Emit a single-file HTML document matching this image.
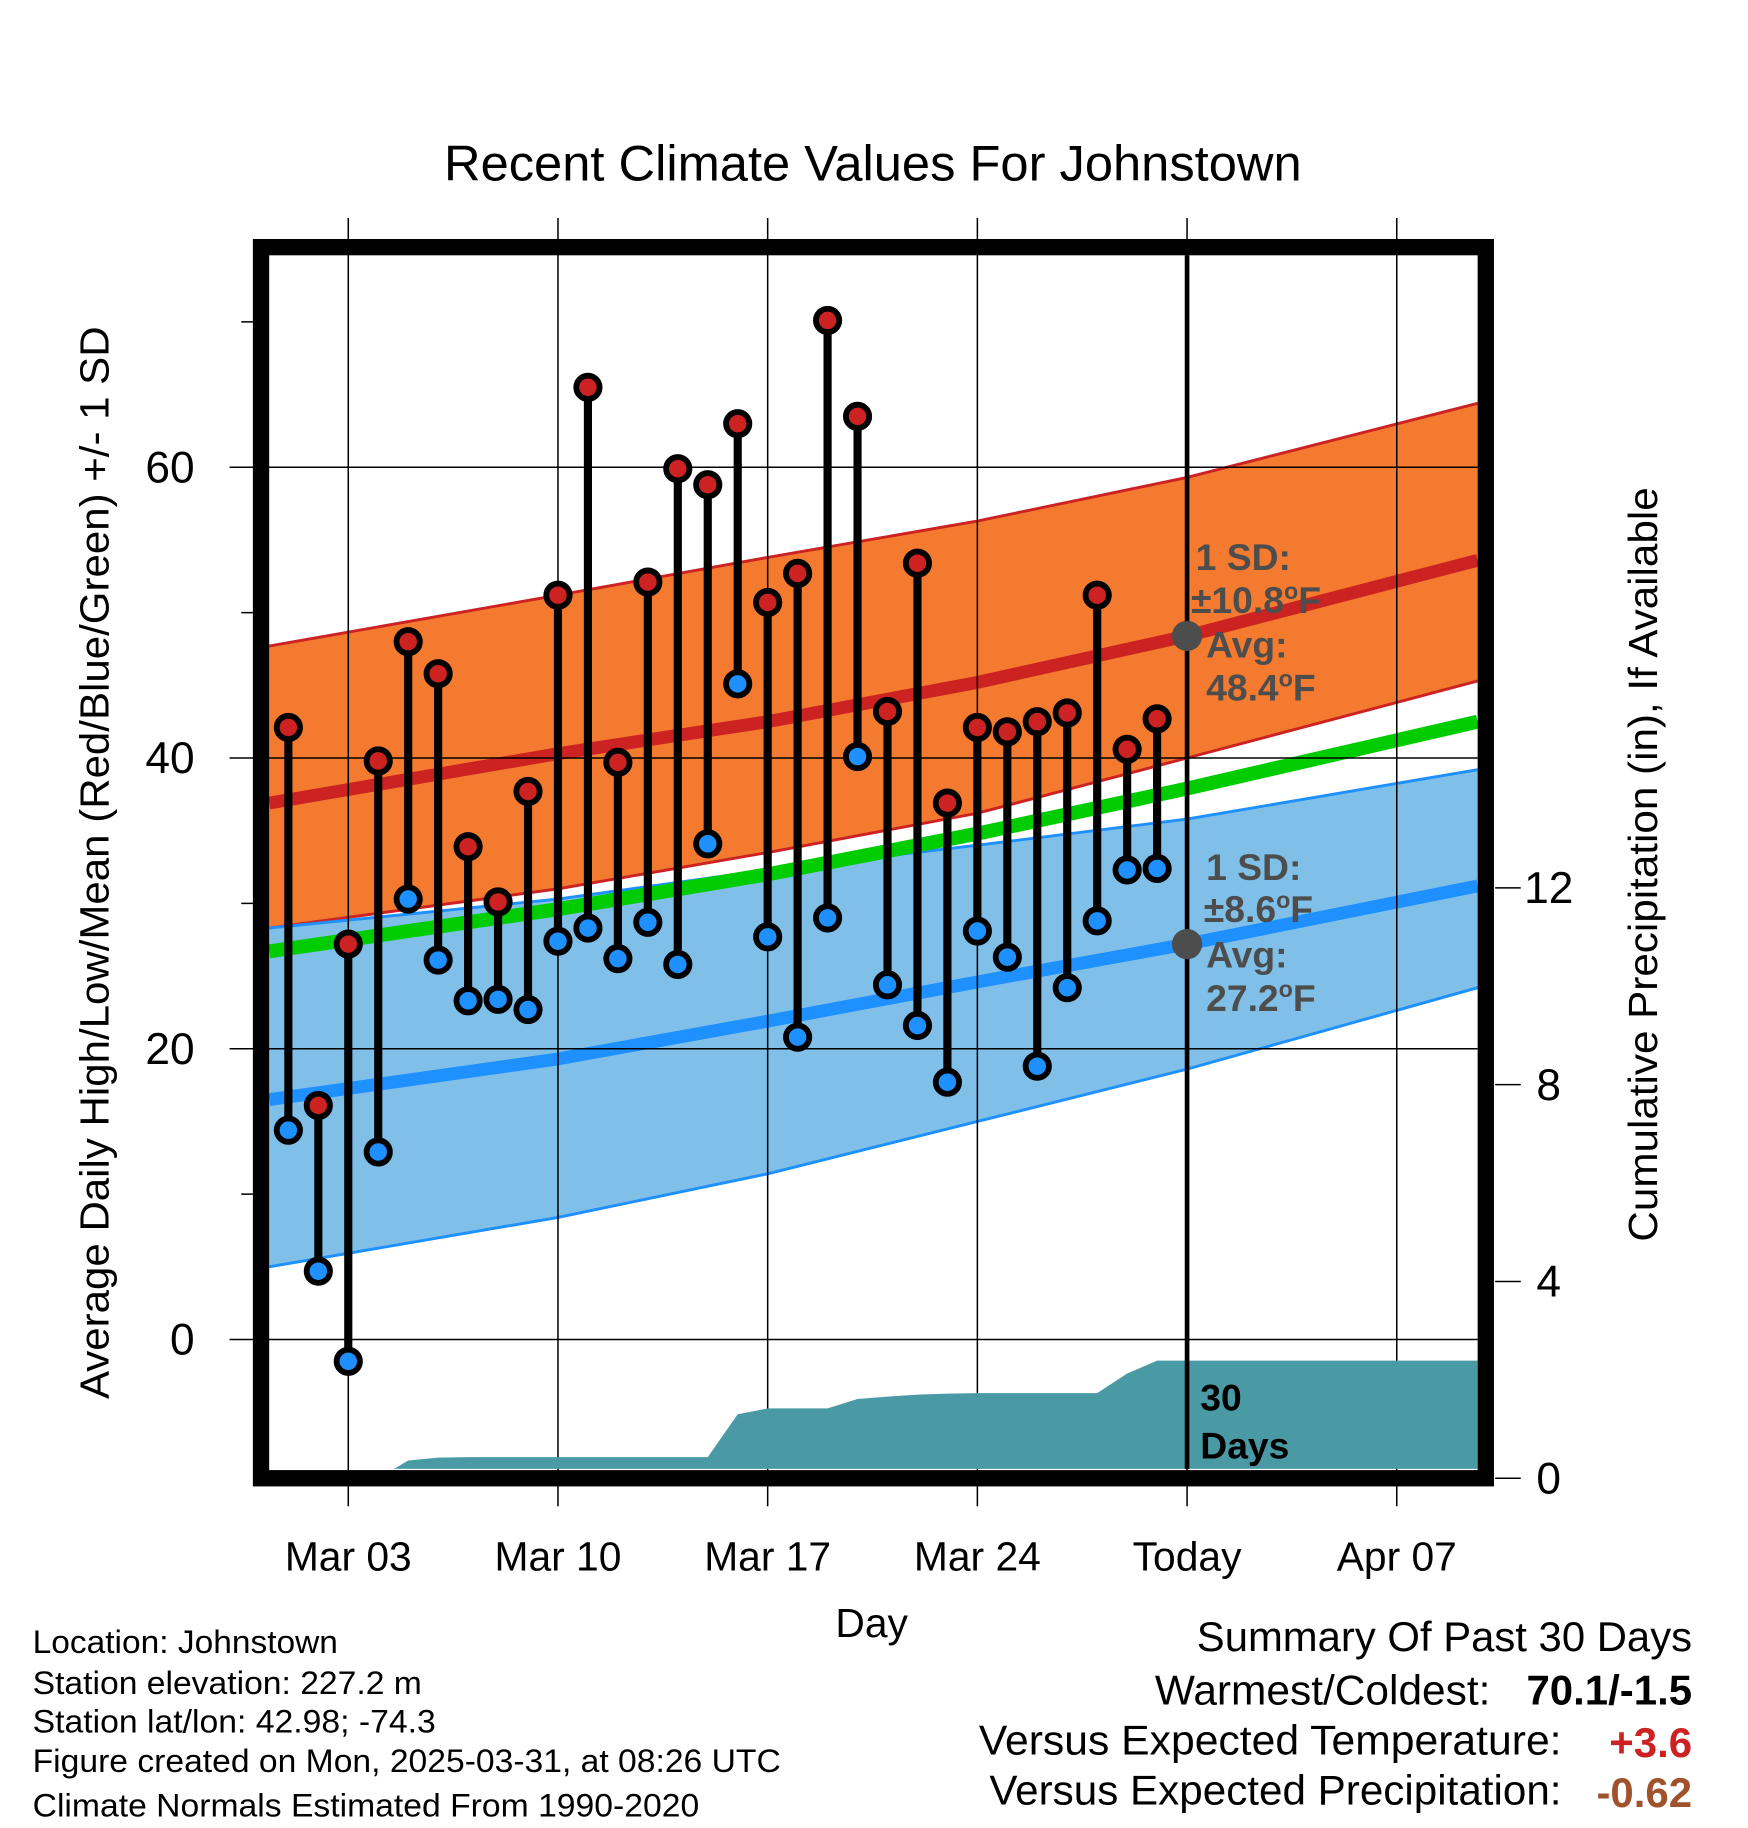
<!DOCTYPE html>
<html><head><meta charset="utf-8"><style>
html,body{margin:0;padding:0;background:#fff}
svg{display:block}
text{font-family:"Liberation Sans",Arial,sans-serif}
</style></head><body>
<svg id="chart" width="1748" height="1828" viewBox="0 0 1500 1568" preserveAspectRatio="none" xmlns="http://www.w3.org/2000/svg">
<g id="bands"></g>
<g id="grid"></g>
<g id="precip"></g>
<g id="marks"></g>
<g id="annot"></g>
<rect x="224" y="212" width="1051" height="1056" fill="none" stroke="#000" stroke-width="14"/>
<text x="381" y="155" font-size="43" textLength="736" lengthAdjust="spacingAndGlyphs">Recent Climate Values For Johnstown</text>
<text x="748" y="1404" font-size="35" text-anchor="middle">Day</text>
<text transform="translate(93,1200) rotate(-90)" font-size="35" textLength="920" lengthAdjust="spacingAndGlyphs">Average Daily High/Low/Mean (Red/Blue/Green) +/- 1 SD</text>
<text transform="translate(1422,1065) rotate(-90)" font-size="35" textLength="647" lengthAdjust="spacingAndGlyphs">Cumulative Precipitation (in), If Available</text>
<g font-size="28">
<text x="28" y="1418" textLength="262" lengthAdjust="spacingAndGlyphs">Location: Johnstown</text>
<text x="28" y="1453" textLength="334" lengthAdjust="spacingAndGlyphs">Station elevation: 227.2 m</text>
<text x="28" y="1486" textLength="346" lengthAdjust="spacingAndGlyphs">Station lat/lon: 42.98; -74.3</text>
<text x="28" y="1520" textLength="642" lengthAdjust="spacingAndGlyphs">Figure created on Mon, 2025-03-31, at 08:26 UTC</text>
<text x="28" y="1558" textLength="572" lengthAdjust="spacingAndGlyphs">Climate Normals Estimated From 1990-2020</text>
</g>
<g font-size="36">
<text x="1027" y="1416" textLength="425" lengthAdjust="spacingAndGlyphs">Summary Of Past 30 Days</text>
<text x="991" y="1462" textLength="288" lengthAdjust="spacingAndGlyphs">Warmest/Coldest:</text>
<text x="1452" y="1462" text-anchor="end" font-weight="bold">70.1/-1.5</text>
<text x="840" y="1505" textLength="500" lengthAdjust="spacingAndGlyphs">Versus Expected Temperature:</text>
<text x="1452" y="1507" text-anchor="end" font-weight="bold" fill="#cc2222">+3.6</text>
<text x="849" y="1548" textLength="491" lengthAdjust="spacingAndGlyphs">Versus Expected Precipitation:</text>
<text x="1452" y="1550" text-anchor="end" font-weight="bold" fill="#a0522d">-0.62</text>
</g>
</svg>
<script>
const days=[1,2,3,4,5,6,7,8,9,10,11,12,13,14,15,16,17,18,19,20,21,22,23,24,25,26,27,28,29,30];
const highs=[42.1,16.1,27.2,39.8,48.0,45.8,33.9,30.1,37.7,51.2,65.5,39.7,52.1,59.9,58.8,63.0,50.7,52.7,70.1,63.5,43.2,53.4,36.9,42.1,41.8,42.5,43.1,51.2,40.6,42.7];
const lows=[14.4,4.7,-1.5,12.9,30.3,26.1,23.3,23.4,22.7,27.4,28.3,26.2,28.7,25.8,34.1,45.1,27.7,20.8,29.0,40.1,24.4,21.6,17.7,28.1,26.3,18.8,24.2,28.8,32.3,32.4];
const precip=[0,0,0,0,0.36,0.42,0.43,0.43,0.43,0.43,0.43,0.43,0.43,0.43,0.43,1.3,1.42,1.42,1.42,1.61,1.66,1.7,1.72,1.73,1.73,1.73,1.73,1.73,2.13,2.39];
const normDays=[0,10,17,24,31,41];
const hiUpper=[47.7,51.2,53.8,56.3,59.3,64.4];
const hiMean=[36.9,40.3,42.5,45.2,48.4,53.6];
const hiLower=[28.3,31.0,33.5,36.2,40.0,45.3];
const meanNorm=[26.7,29.6,32.0,34.8,37.9,42.5];
const loUpper=[28.3,30.3,32.3,34.0,35.8,39.2];
const loMean=[16.5,19.3,21.9,24.6,27.2,31.2];
const loLower=[5.0,8.4,11.4,15.0,18.6,24.2];
const yTicks=[0,20,40,60];
const yMinor=[10,30,50,70];
const y2Ticks=[0,4,8,12];
const xTickDays=[3,10,17,24,31,38];
const xTickLabels=["Mar 03","Mar 10","Mar 17","Mar 24","Today","Apr 07"];

const NS="http://www.w3.org/2000/svg";
const L=231,R=1268,T=219,B=1260;
const dMin=0.36,dMax=40.7;
const xs=d=>L+(d-dMin)/(dMax-dMin)*(R-L);
const ys=v=>1149-v*12.47;
const yp=v=>1268-v*42.2;
function mk(tag,attrs,parent){const e=document.createElementNS(NS,tag);for(const k in attrs)e.setAttribute(k,attrs[k]);parent.appendChild(e);return e;}
function pts(arr,dayArr){return dayArr.map((d,i)=>[xs(Math.max(dMin,Math.min(dMax,d))),ys(arr[i])]);}
const bands=document.getElementById('bands'),grid=document.getElementById('grid'),pr=document.getElementById('precip'),marks=document.getElementById('marks'),an=document.getElementById('annot');
function band(up,lo,fill,name){const a=pts(up,normDays),b=pts(lo,normDays).reverse();
 const p=mk('path',{d:'M'+a.concat(b).map(q=>q.join(',')).join('L')+'Z',fill:fill},bands);
 
 }
function line(arr,col,w,name){const a=pts(arr,normDays);
 const p=mk('polyline',{points:a.map(q=>q.join(',')).join(' '),fill:'none',stroke:col,'stroke-width':w},bands);
 
 }
band(hiUpper,hiLower,'#f47a30','high-sd-band');
band(loUpper,loLower,'#80c0e8','low-sd-band');
line(hiUpper,'#cc2222',2.5,'high-upper-line');
line(hiLower,'#cc2222',2.5,'high-lower-line');
line(loUpper,'#1e90ff',2.5,'low-upper-line');
line(loLower,'#1e90ff',2.5,'low-lower-line');
line(meanNorm,'#00cc00',12,'mean-normal-line');
line(hiMean,'#cc2222',11,'high-normal-line');
line(loMean,'#1e90ff',11,'low-normal-line');
yTicks.forEach(v=>{const l=mk('line',{x1:197,x2:R,y1:ys(v),y2:ys(v),stroke:'#000','stroke-width':1.3},grid);
 
 
 const t=mk('text',{x:167,y:ys(v)+13,'font-size':38,'text-anchor':'end'},grid);t.textContent=v;
 
 });
yMinor.forEach(v=>{const l=mk('line',{x1:207,x2:217,y1:ys(v),y2:ys(v),stroke:'#000','stroke-width':1.3},grid);
 
 });
y2Ticks.forEach(v=>{const l=mk('line',{x1:1283,x2:1305,y1:yp(v),y2:yp(v),stroke:'#000','stroke-width':1.3},grid);
 
 
 const t=mk('text',{x:1329,y:yp(v)+13,'font-size':38,'text-anchor':'middle'},grid);t.textContent=v;
 
 });
xTickDays.forEach((d,i)=>{
 const l=mk('line',{x1:xs(d),x2:xs(d),y1:187,y2:1292,stroke:'#000','stroke-width':1.3},grid);
 
 
 const t=mk('text',{x:xs(d),y:1347,'font-size':35,'text-anchor':'middle'},grid);t.textContent=xTickLabels[i];
 
 });
let pp=[[xs(days[0]),yp(0)]];days.forEach((d,i)=>pp.push([xs(d),yp(precip[i])]));
pp.push([R,yp(precip[precip.length-1])]);pp.push([R,yp(0)]);pp.push([xs(days[0]),yp(0)]);
const clip=mk('clipPath',{id:'pc'},pr);mk('rect',{x:L,y:T,width:R-L,height:B-T},clip);
const pa=mk('path',{d:'M'+pp.map(q=>q.join(',')).join('L')+'Z',fill:'#4a9aa5','clip-path':'url(#pc)'},pr);


const tl=mk('line',{x1:xs(31),x2:xs(31),y1:T,y2:B,stroke:'#000','stroke-width':4},pr);


days.forEach((d,i)=>{const x=xs(d);
 const s=mk('line',{x1:x,x2:x,y1:ys(highs[i]),y2:ys(lows[i]),stroke:'#000','stroke-width':7},marks);
 
 });
days.forEach((d,i)=>{const x=xs(d);
 const h=mk('circle',{cx:x,cy:ys(highs[i]),r:10,fill:'#cc2222',stroke:'#000','stroke-width':5},marks);
 
 
 const l=mk('circle',{cx:x,cy:ys(lows[i]),r:10,fill:'#1e90ff',stroke:'#000','stroke-width':5},marks);
 
 });
const tx=xs(31);
function dot(v,name){const c=mk('circle',{cx:tx,cy:ys(v),r:13,fill:'#4d4d4d'},an);
 
 }
dot(hiMean[4],'high-avg-dot');dot(loMean[4],'low-avg-dot');
function txt(x,y,html,name,fill,size){const t=mk('text',{x:x,y:y,'font-size':size||32,'font-weight':'bold',fill:fill||'#4d4d4d'},an);t.innerHTML=html;
 
 }
const deg='<tspan dy="-12" font-size="20">o</tspan><tspan dy="12">F</tspan>';
txt(1026,489,'1 SD:','high-sd-label');txt(1022,526,'±10.8'+deg,'high-sd-value');
txt(1035,564,'Avg:','high-avg-label');txt(1035,601,'48.4'+deg,'high-avg-value');
txt(1035,755,'1 SD:','low-sd-label');txt(1033,791,'±8.6'+deg,'low-sd-value');
txt(1035,830,'Avg:','low-avg-label');txt(1035,867,'27.2'+deg,'low-avg-value');
txt(1030,1210,'30','days-label','#000');txt(1030,1251,'Days','days-label-2','#000');
</script>
</body></html>
